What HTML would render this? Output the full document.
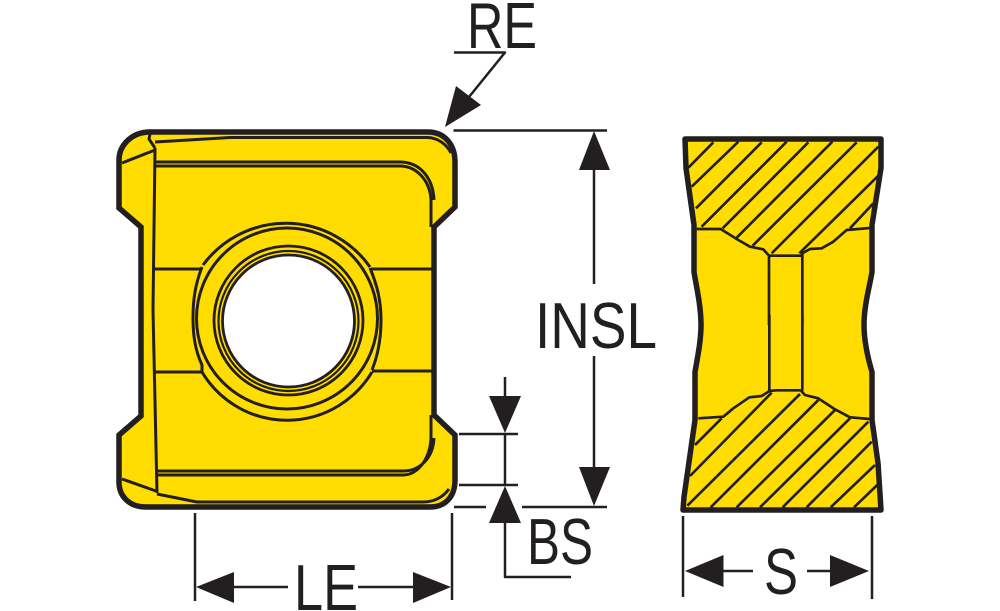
<!DOCTYPE html>
<html><head><meta charset="utf-8"><style>html,body{margin:0;padding:0;background:#fff}svg{display:block}text{font-family:"Liberation Sans",sans-serif;font-size:65px;fill:#231f20}</style></head><body>
<svg width="1000" height="611" viewBox="0 0 1000 611" xmlns="http://www.w3.org/2000/svg">
<g fill="none" stroke="#231f20" stroke-linejoin="round">
<!-- left insert -->
<path fill="#ffdd00" stroke-width="5.500" stroke-linejoin="miter" d="M150,132 H428 C445,132 455,145 455,162 V207 L434,227 V415 L455,435 V480 C455,497 445,507 430,507 H146 C130,507 119,497 119,482 V435 L141,416 V227 L119,208 V160 C119,145 132,132 150,132 Z"/>
<circle cx="288.500" cy="321" r="66" fill="#fff" stroke-width="2.800"/>
<circle cx="288.500" cy="321" r="70" stroke-width="2.200"/>
<circle cx="288.500" cy="320.500" r="74.500" stroke-width="2.800"/>
<circle cx="287" cy="318.500" r="90.500" stroke-width="3"/>
<g stroke-width="3">
<path d="M203,265 A103,103 0 0 1 370,267"/>
<path d="M202,267 C195,285 193,300 193,318 C193,335 195,350 202,365 V372"/>
<path d="M370,268 C377,285 381,300 381,320 C381,340 378,355 372,370"/>
<path d="M202,372 A99,99 0 0 0 372,372"/>
<path d="M153,269 H202 M371,269 H432 M153,372 H202 M372,371 H432"/>
<path d="M155,148 L153,310 L157,493"/>
<path d="M122,163 L155,150 M150,134 L149,139 L155,148"/>
<path d="M155,142 L230,137.500 H426 C438,137 447,145 451,153"/>
<path d="M155,162 H400 C420,162 433,178 434,200 M155,166 H400 C416,166 430,180 431,200 V227"/>
<path d="M157,471 H403 C420,471 433,458 434,438 M157,475 H403 C417,475 430,460 431,438 V415"/>
<path d="M122,479 L156,491 M157,494 L197,502 H423 C435,502 443,497 449,489"/>
</g>
<!-- right insert -->
<path fill="#ffdd00" stroke-width="5.500" stroke-linejoin="round" d="M685,139 H881 V168 L872,225 V272 C870,285 864,305 864,325 C864,340 867,355 872,372 V420 L878,463 L881,510 H683 L684,497 L695,420 V372 C698,355 701,340 701,325 C701,305 696,285 694,272 V225 L686,168 Z"/>
<g transform="translate(670,125) scale(.33333)" stroke-width="8">
<path d="M80,312 L152,312 L205,345 L240,365 L280,373 L297,392 H397 L397,385 L420,372 L455,370 L490,350 L530,315 L610,308"/>
<path d="M297,392 V600 M397,392 V600"/>
<path d="M130,52L55,128M205,50L65,185M275,52L78,250M350,50L95,305M415,52L158,310M487,50L200,338M560,52L248,362M625,65L305,385M625,152L388,385M610,235L540,310"/>
</g>
<g transform="translate(670,320) scale(.33333)" stroke-width="8">
<path d="M298,-15 V210 M397,-15 V212"/>
<path d="M85,295 L160,290 L190,265 L238,232 L275,228 L298,213 L318,211 H392 L405,225 L445,235 L495,268 L540,292 L600,297"/>
<path d="M155,295L75,375M305,218L60,468M390,222L52,557M445,240L122,562M495,270L200,562M540,295L270,562M595,305L338,562M605,365L410,562M615,435L482,562M625,492L552,562"/>
</g>
<!-- dimension lines -->
<g stroke-width="2.500">
<path d="M454,52.500 H505 L469,97"/>
<path d="M453.500,130.500 H607 M594,170 V284 M594,356 V467 M522,507 H607 M454,507 H486"/>
<path d="M505,377 V396 M459,434 H518 M459,485 H518 M505,434 V486 M505,523 V577 H571"/>
<path d="M195,513 V601 M452,513 V600 M234,587 H288 M358,587 H413"/>
<path d="M683,516 V597 M872,516 V599 M723,571 H753 M807,571 H830"/>
</g>
</g>
<g fill="#231f20">
<path d="M445,127 L456,86 L481,105 Z"/>
<path d="M594,131 L579,170 H610 Z"/>
<path d="M594,506 L579,467 H610 Z"/>
<path d="M505,433 L489,396 H521 Z"/>
<path d="M505,486 L489,523 H521 Z"/>
<path d="M196,587 L234,572 V603 Z"/>
<path d="M451,587 L413,572 V603 Z"/>
<path d="M685,571 L723.500,555 V587 Z"/>
<path d="M869,571 L830,555 V587 Z"/>
</g>
<text x="467" y="48" textLength="70" lengthAdjust="spacingAndGlyphs">RE</text>
<text x="535" y="348" textLength="122" lengthAdjust="spacingAndGlyphs">INSL</text>
<text x="527" y="564" textLength="66" lengthAdjust="spacingAndGlyphs">BS</text>
<text x="294" y="610" textLength="64" lengthAdjust="spacingAndGlyphs">LE</text>
<text x="764" y="594" textLength="34" lengthAdjust="spacingAndGlyphs">S</text>
</svg>
</body></html>
